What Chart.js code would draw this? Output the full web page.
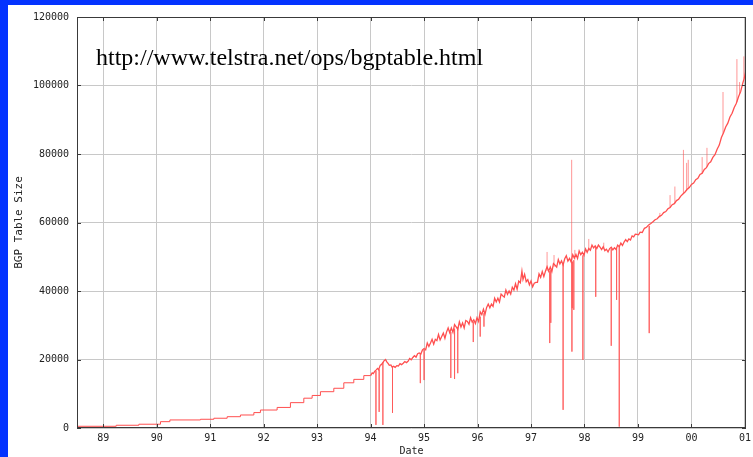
<!DOCTYPE html>
<html><head><meta charset="utf-8">
<script src="https://cdn.jsdelivr.net/npm/chart.js@4/dist/chart.umd.min.js"></script>
<style>
html,body{margin:0;padding:0;background:#0433ff;width:753px;height:457px;overflow:hidden}
#wrap{position:absolute;left:8px;top:5px;width:745px;height:452px;background:#fff}
canvas{display:block}
</style></head><body>
<div id="wrap"><canvas id="c" width="745" height="452"></canvas></div>
<script>
// ---- data ----
const yearTicks  = [89, 90, 91, 92, 93, 94, 95, 96, 97, 98, 99, 100, 101];
const yearLabels = ['89','90','91','92','93','94','95','96','97','98','99','00','01'];
const sizeTicks  = [0, 20000, 40000, 60000, 80000, 100000, 120000];

// early period: table grew in steps
const stepDates = [88.51, 89.243, 89.667, 90.071, 90.247, 90.819, 91.069, 91.318, 91.566, 91.817, 91.940, 92.252, 92.501, 92.751, 92.907, 93.062, 93.312, 93.499, 93.686, 93.873, 94.0];
const stepSizes = [200, 500, 800, 1100, 1850, 2350, 2550, 2850, 3300, 3800, 4500, 5250, 6000, 7400, 8700, 9500, 10600, 11600, 13200, 14200, 15300];

// daily samples from 1994 on
const dates = [94.00,94.03,94.05,94.08,94.10,94.13,94.15,94.18,94.20,94.23,94.25,94.28,94.30,94.33,94.35,94.38,94.40,94.43,94.46,94.49,
94.52,94.55,94.58,94.61,94.64,94.67,94.70,94.73,94.76,94.79,94.82,94.85,94.88,94.91,94.94,94.97,95.00,95.03,95.06,95.09,
95.12,95.15,95.18,95.21,95.24,95.27,95.30,95.33,95.36,95.39,95.42,95.45,95.48,95.51,95.54,95.57,95.60,95.63,95.66,95.69,
95.72,95.75,95.78,95.81,95.84,95.87,95.90,95.93,95.96,95.99,96.02,96.05,96.08,96.11,96.14,96.17,96.20,96.23,96.26,96.29,
96.32,96.35,96.38,96.41,96.44,96.47,96.50,96.53,96.56,96.59,96.62,96.65,96.68,96.71,96.74,96.77,96.80,96.83,96.85,96.88,
96.91,96.94,96.97,97.00,97.03,97.06,97.09,97.12,97.15,97.18,97.21,97.24,97.27,97.30,97.33,97.36,97.39,97.42,97.45,97.48,
97.51,97.54,97.57,97.60,97.63,97.66,97.69,97.72,97.75,97.78,97.81,97.84,97.87,97.90,97.93,97.96,97.99,98.02,98.05,98.08,
98.11,98.14,98.17,98.20,98.23,98.26,98.29,98.32,98.35,98.38,98.41,98.44,98.47,98.50,98.53,98.56,98.59,98.62,98.65,98.68,
98.71,98.74,98.77,98.80,98.83,98.86,98.89,98.92,98.95,98.98,99.01,99.04,99.08,99.12,99.16,99.20,99.24,99.28,99.32,99.36,
99.40,99.44,99.48,99.52,99.56,99.60,99.64,99.68,99.72,99.76,99.80,99.84,99.88,99.92,99.96,100.00,100.04,100.08,100.12,100.16,
100.20,100.24,100.28,100.32,100.36,100.40,100.44,100.48,100.52,100.56,100.60,100.64,100.68,100.72,100.76,100.80,100.84,100.88,100.92,100.96,
100.99,101.02];
const sizes = [15300,16100,15900,16600,16900,17400,17000,18300,18500,19100,19600,20000,19400,18800,18300,18400,17800,18000,17700,18200,
18100,18800,18500,18900,19400,19100,19500,20300,19900,20600,21100,20700,21700,21900,21600,22800,23200,22800,24800,23800,
24800,25900,24500,25900,25500,27300,25700,26700,27700,26200,28000,29200,27800,29200,27900,30200,29500,28800,31000,29500,
30700,29200,31400,31100,30300,32200,30900,31600,30500,32200,31100,33900,33100,34700,33200,35200,36200,35100,36200,35500,
37900,36800,37900,36800,39100,38600,38200,40300,39000,40000,39100,41100,40300,42100,40500,42900,42400,45800,43400,44900,
42700,43300,41800,42900,41200,42300,42500,42500,45000,44000,45700,44200,45800,47100,45800,47000,45700,48000,47500,47000,
49200,47900,48800,47600,49400,50300,48700,49500,48500,50600,49600,50700,49500,51700,50600,51300,50400,52300,51300,52400,
51900,53400,52600,53200,52400,53400,52800,52100,52900,51800,52200,51400,52400,52800,52000,52600,52100,53400,52900,54000,
53300,54300,55000,54400,55200,54900,56100,55800,56600,56500,56400,57200,57100,58300,58600,59300,59700,60200,60800,61100,
61800,62100,62900,63200,64000,64400,65200,65500,66400,66800,67700,68300,68900,69700,70200,71100,71500,72500,72900,74000,
74400,75500,76000,77200,77700,79000,79800,81400,82600,84800,86200,87900,89000,90800,91900,93600,94800,96700,98200,100700,
102300,104500];

// transient outages / leaks: date, normal size, extreme size
const spikeDates = [94.10,94.16,94.23,94.41,94.93,95.00,95.50,95.57,95.63,95.92,96.05,96.12,97.30,97.35,97.37,97.43,97.60,97.76,97.765,97.77,
97.80,97.82,97.97,98.08,98.21,98.36,98.50,98.60,98.65,99.21,99.41,99.60,99.69,99.85,99.91,99.94,100.20,100.29,100.59,100.85,100.90,100.98];
const spikeBase  = [16700,17100,19200,17800,21800,22800,28000,29000,29500,31000,32500,33500,45800,45800,46200,47000,47800,48500,48500,48600,
49000,49200,50400,51800,52800,52500,52400,52500,52800,59000,61500,64300,65600,68300,69300,69700,74300,76200,86000,95200,97500,102000];
const spikeEnd   = [900,4700,900,4400,13100,14000,14600,14300,16000,25100,26700,29600,51400,24800,30700,50500,5300,78300,22300,35000,
34500,52000,19900,55200,38300,54100,24000,37400,400,27700,62800,68000,70500,81200,77400,78300,79100,81800,98100,107700,101000,108500];

const urlText = 'http://www.telstra.net/ops/bgptable.html';

// ---- build datasets ----
const stepData  = stepDates.map((d, i) => ({x: d, y: stepSizes[i]}));
const mainData  = dates.map((d, i) => ({x: d, y: sizes[i]}));
const spikeData = [];
spikeDates.forEach((d, i) => {
  spikeData.push({x: d, y: spikeBase[i]}, {x: d, y: spikeEnd[i]}, {x: d, y: null});
});

const RED = '#ff4f4f';
const monoFont = {family: '"DejaVu Sans Mono", monospace', size: 10};

const framePlugin = {
  id: 'frame',
  afterDraw(chart) {
    const {ctx, chartArea: a, scales: {x, y}} = chart;
    ctx.save();
    ctx.strokeStyle = '#3a3a3a';
    ctx.lineWidth = 1;
    ctx.strokeRect(Math.round(a.left) + 0.5, Math.round(a.top) + 0.5,
                   Math.round(a.right - a.left) - 1, Math.round(a.bottom - a.top) - 1);
    ctx.beginPath();
    yearTicks.forEach(v => {
      const px = Math.round(x.getPixelForValue(v)) + 0.5;
      ctx.moveTo(px, a.bottom); ctx.lineTo(px, a.bottom - 4);
      ctx.moveTo(px, a.top); ctx.lineTo(px, a.top + 4);
    });
    sizeTicks.forEach(v => {
      const py = Math.round(y.getPixelForValue(v)) + 0.5;
      ctx.moveTo(a.left, py); ctx.lineTo(a.left + 4, py);
      ctx.moveTo(a.right, py); ctx.lineTo(a.right - 4, py);
    });
    ctx.stroke();
    ctx.fillStyle = '#000';
    ctx.font = '24px "Liberation Serif", "Times New Roman", serif';
    ctx.textBaseline = 'alphabetic';
    ctx.fillText(urlText, a.left + 19, a.top + 48);
    ctx.restore();
  }
};

new Chart(document.getElementById('c'), {
  type: 'line',
  data: {
    datasets: [
      {data: stepData, borderColor: RED, borderWidth: 1, pointRadius: 0, stepped: 'after', fill: false},
      {data: mainData, borderColor: RED, borderWidth: 1.3, pointRadius: 0, tension: 0, fill: false},
      {data: spikeData, borderColor: 'rgba(255,80,80,0.6)', borderWidth: 1, pointRadius: 0, spanGaps: false, fill: false}
    ]
  },
  options: {
    responsive: false,
    animation: false,
    events: [],
    layout: {padding: {top: 12, right: 7, bottom: 0, left: 0}},
    plugins: {legend: {display: false}, tooltip: {enabled: false}},
    scales: {
      x: {
        type: 'linear', min: 88.51, max: 101.02,
        afterBuildTicks: s => { s.ticks = yearTicks.map(v => ({value: v})); },
        afterFit: s => { s.height = 29; s.paddingLeft = 0; s.paddingRight = 0; },
        ticks: {callback: (v, i) => yearLabels[i], font: monoFont, color: '#222', padding: 4, maxRotation: 0, autoSkip: false},
        grid: {color: '#c8c8c8', drawTicks: false, lineWidth: 1},
        border: {display: false},
        title: {display: true, text: 'Date', font: monoFont, color: '#222', padding: {top: 0, bottom: 0}}
      },
      y: {
        min: 0, max: 120000,
        afterBuildTicks: s => { s.ticks = sizeTicks.map(v => ({value: v})); },
        afterFit: s => { s.width = 69; s.paddingTop = 0; s.paddingBottom = 0; },
        ticks: {callback: v => String(v), font: monoFont, color: '#222', padding: 8},
        grid: {color: '#c8c8c8', drawTicks: false, lineWidth: 1},
        border: {display: false},
        title: {display: true, text: 'BGP Table Size', font: {family: '"DejaVu Sans Mono", monospace', size: 11}, color: '#222', padding: {top: 5, bottom: 0}}
      }
    }
  },
  plugins: [framePlugin]
});
</script>
</body></html>
